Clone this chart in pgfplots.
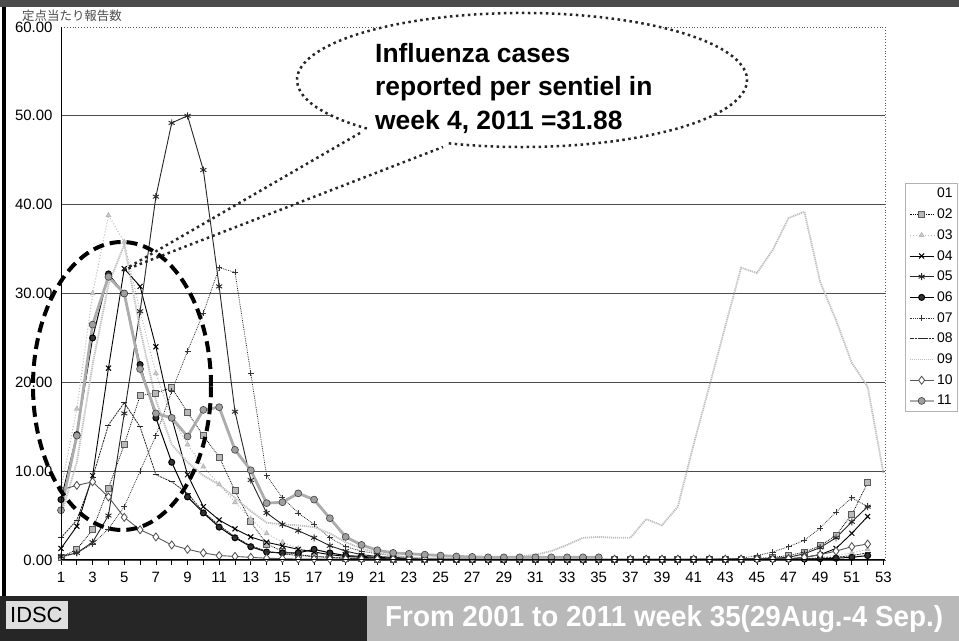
\documentclass[border=0pt]{standalone}
\usepackage{pgfplots}
\pgfplotsset{compat=1.18}
\usepackage{fontspec}
\setmainfont{Liberation Sans}
\newfontfamily\cjk{Noto Sans CJK JP}
\begin{document}
\begin{tikzpicture}[x=1bp,y=1bp]
\useasboundingbox (0,0) rectangle (959,641);
\clip (0,0) rectangle (959,641);
\fill[white] (0,0) rectangle (959,641);
\begin{axis}[
  at={(61bp,81bp)}, anchor=south west, scale only axis,
  width=824bp, height=533bp,
  xmin=1, xmax=53.1, ymin=0, ymax=60,
  xtick={1,3,...,53}, minor xtick={2,4,...,52},
  ytick={0,10,...,60},
  ymajorgrids, major grid style={gray!60!black, line width=0.8bp},
  axis line style={draw=none},
  tick align=outside, xtick pos=left, ytick pos=left,
  major tick length=5bp, minor tick length=5bp,
  tick style={black, line width=0.7bp},
  ytick style={draw=none},
  tick label style={font=\fontsize{15}{17}\selectfont},
  xticklabel style={yshift=-4bp},
  /pgf/number format/assume math mode=true,
  yticklabel style={/pgf/number format/fixed, /pgf/number format/fixed zerofill, /pgf/number format/precision=2},
  legend style={at={(1.0243,0.7073)}, anchor=north west, draw=gray!60, fill=white,
    font=\fontsize{14}{16}\selectfont, row sep=5.5bp, inner sep=3bp},
  legend cell align=left,
  legend image code/.code={\draw[mark repeat=2,mark phase=2,#1] plot coordinates {(0bp,0bp) (12bp,0bp) (24bp,0bp)};},
]
% 01
\addplot[draw=white, line width=1bp, mark=none] coordinates {
(1,1.5)(2,2.5)(3,3.5)(4,5)(5,7)(6,8.5)(7,9.5)(8,9.5)(9,8.5)(10,7)(11,5.5)(12,4)(13,2.8)(14,2)(15,1.4)(16,1)(17,0.7)(18,0.5)(19,0.3)(20,0.2)(21,0.1)(22,0.1)(23,0.1)(24,0.1)(25,0.1)(26,0.1)(27,0.1)(28,0.1)(29,0.1)(30,0.1)(31,0.1)(32,0.1)(33,0.1)(34,0.1)(35,0.1)(36,0.1)(37,0.1)(38,0.1)(39,0.1)(40,0.1)(41,0.1)(42,0.1)(43,0.1)(44,0.1)(45,0.1)(46,0.1)(47,0.1)(48,0.1)(49,0.2)(50,0.3)(51,0.4)(52,0.5)};
\addlegendentry{01}
% 02
\addplot[black, densely dotted, line width=0.8bp, mark=square*, mark size=3bp, mark options={solid, fill=gray!55, draw=gray!70!black}] coordinates {
(1,0.3)(2,1.2)(3,3.4)(4,8.1)(5,13.0)(6,18.5)(7,18.8)(8,19.4)(9,16.6)(10,14.0)(11,11.6)(12,7.8)(13,4.3)(14,1.8)(15,1.0)(16,0.6)(17,0.4)(18,0.3)(19,0.2)(20,0.15)(21,0.1)(22,0.08)(23,0.06)(24,0.05)(25,0.04)(26,0.03)(27,0.03)(28,0.02)(29,0.02)(30,0.02)(31,0.02)(32,0.02)(33,0.02)(34,0.02)(35,0.02)(36,0.03)(37,0.03)(38,0.04)(39,0.05)(40,0.05)(41,0.06)(42,0.08)(43,0.1)(44,0.12)(45,0.18)(46,0.3)(47,0.5)(48,0.9)(49,1.6)(50,2.8)(51,5.1)(52,8.7)};
\addlegendentry{02}
% 03
\addplot[gray!55, dotted, line width=1bp, mark=triangle*, mark size=2.5bp, mark options={solid, fill=gray!35, draw=gray!55}] coordinates {
(1,8.0)(2,17.0)(3,30.0)(4,38.8)(5,35.8)(6,28.0)(7,21.0)(8,16.0)(9,13.0)(10,10.5)(11,8.5)(12,6.5)(13,4.6)(14,3.0)(15,2.0)(16,1.3)(17,0.9)(18,0.6)(19,0.4)(20,0.3)(21,0.2)(22,0.15)(23,0.1)(24,0.08)(25,0.06)(26,0.05)(27,0.04)(28,0.03)(29,0.03)(30,0.03)(31,0.03)(32,0.03)(33,0.03)(34,0.03)(35,0.03)(36,0.03)(37,0.03)(38,0.03)(39,0.04)(40,0.04)(41,0.04)(42,0.05)(43,0.05)(44,0.05)(45,0.08)(46,0.1)(47,0.15)(48,0.2)(49,0.3)(50,0.5)(51,0.8)(52,1.2)};
\addlegendentry{03}
% 04
\addplot[black, line width=0.9bp, mark=x, mark size=3.5bp, mark options={line width=1bp}] coordinates {
(1,1.3)(2,3.8)(3,9.5)(4,21.6)(5,32.8)(6,30.8)(7,24.0)(8,16.0)(9,9.6)(10,6.0)(11,4.5)(12,3.5)(13,2.6)(14,2.0)(15,1.6)(16,1.2)(17,0.9)(18,0.6)(19,0.4)(20,0.3)(21,0.2)(22,0.1)(23,0.1)(24,0.08)(25,0.06)(26,0.05)(27,0.05)(28,0.04)(29,0.04)(30,0.04)(31,0.04)(32,0.04)(33,0.04)(34,0.04)(35,0.04)(36,0.04)(37,0.04)(38,0.05)(39,0.05)(40,0.05)(41,0.06)(42,0.07)(43,0.08)(44,0.1)(45,0.1)(46,0.1)(47,0.1)(48,0.3)(49,0.6)(50,1.3)(51,3.0)(52,4.9)};
\addlegendentry{04}
% 05
\addplot[black!85, line width=0.9bp, mark=asterisk, mark size=3.5bp] coordinates {
(1,0.4)(2,0.8)(3,2.0)(4,5.0)(5,16.5)(6,28.0)(7,40.9)(8,49.2)(9,50.0)(10,43.9)(11,30.8)(12,16.7)(13,9.0)(14,5.3)(15,4.0)(16,3.3)(17,2.5)(18,1.6)(19,1.0)(20,0.6)(21,0.4)(22,0.3)(23,0.2)(24,0.1)(25,0.08)(26,0.06)(27,0.05)(28,0.05)(29,0.05)(30,0.05)(31,0.05)(32,0.05)(33,0.05)(34,0.05)(35,0.05)(36,0.05)(37,0.05)(38,0.05)(39,0.05)(40,0.06)(41,0.06)(42,0.07)(43,0.08)(44,0.09)(45,0.1)(46,0.2)(47,0.3)(48,0.7)(49,1.4)(50,2.5)(51,4.3)(52,6.0)};
\addlegendentry{05}
% 06
\addplot[black, line width=1bp, mark=*, mark size=3bp, mark options={fill=gray!40!black}] coordinates {
(1,6.8)(2,14.1)(3,25.0)(4,32.2)(5,30.0)(6,22.0)(7,16.0)(8,11.0)(9,7.1)(10,5.3)(11,3.7)(12,2.5)(13,1.5)(14,0.9)(15,0.8)(16,0.8)(17,1.2)(18,0.8)(19,0.5)(20,0.4)(21,0.3)(22,0.2)(23,0.15)(24,0.1)(25,0.08)(26,0.06)(27,0.05)(28,0.05)(29,0.05)(30,0.05)(31,0.05)(32,0.05)(33,0.05)(34,0.05)(35,0.05)(36,0.05)(37,0.05)(38,0.05)(39,0.05)(40,0.05)(41,0.05)(42,0.05)(43,0.06)(44,0.07)(45,0.08)(46,0.09)(47,0.1)(48,0.1)(49,0.15)(50,0.2)(51,0.3)(52,0.5)};
\addlegendentry{06}
% 07
\addplot[black!80, densely dotted, line width=0.8bp, mark=+, mark size=3bp, mark options={solid}] coordinates {
(1,0.3)(2,0.8)(3,1.8)(4,3.5)(5,6.0)(6,10.0)(7,14.0)(8,19.0)(9,23.5)(10,27.8)(11,32.9)(12,32.4)(13,21.0)(14,9.5)(15,7.0)(16,5.3)(17,4.0)(18,2.5)(19,1.5)(20,1.0)(21,0.7)(22,0.5)(23,0.3)(24,0.2)(25,0.1)(26,0.08)(27,0.06)(28,0.05)(29,0.05)(30,0.05)(31,0.05)(32,0.05)(33,0.05)(34,0.05)(35,0.05)(36,0.05)(37,0.05)(38,0.06)(39,0.06)(40,0.07)(41,0.08)(42,0.09)(43,0.1)(44,0.2)(45,0.5)(46,0.9)(47,1.5)(48,2.2)(49,3.6)(50,5.4)(51,7.0)(52,6.0)};
\addlegendentry{07}
% 08
\addplot[black!85, dash pattern=on 2bp off 0.8bp, line width=0.8bp, mark=-, mark size=3bp, mark options={solid}] coordinates {
(1,2.5)(2,4.5)(3,9.3)(4,15.2)(5,17.7)(6,15.0)(7,9.6)(8,8.8)(9,7.5)(10,5.4)(11,3.9)(12,2.6)(13,1.6)(14,1.0)(15,0.7)(16,0.5)(17,0.4)(18,0.3)(19,0.2)(20,0.15)(21,0.1)(22,0.08)(23,0.06)(24,0.05)(25,0.05)(26,0.05)(27,0.05)(28,0.05)(29,0.05)(30,0.05)(31,0.05)(32,0.05)(33,0.05)(34,0.05)(35,0.05)(36,0.05)(37,0.05)(38,0.05)(39,0.05)(40,0.05)(41,0.05)(42,0.06)(43,0.06)(44,0.07)(45,0.08)(46,0.09)(47,0.1)(48,0.1)(49,0.2)(50,0.3)(51,0.5)(52,0.8)};
\addlegendentry{08}
% 09
\addplot[gray!50, line width=1.8bp, dash pattern=on 1.2bp off 0.8bp, mark=none] coordinates {
(1,5.0)(2,11.0)(3,22.0)(4,31.0)(5,35.5)(6,26.0)(7,18.0)(8,13.0)(9,11.0)(10,9.5)(11,8.5)(12,7.0)(13,5.5)(14,4.2)(15,4.0)(16,3.9)(17,3.7)(18,3.0)(19,2.0)(20,1.3)(21,0.8)(22,0.5)(23,0.3)(24,0.2)(25,0.2)(26,0.2)(27,0.2)(28,0.2)(29,0.3)(30,0.4)(31,0.6)(32,1.0)(33,1.7)(34,2.5)(35,2.6)(36,2.5)(37,2.5)(38,4.6)(39,3.9)(40,6.0)(41,13.0)(42,19.6)(43,26.3)(44,32.9)(45,32.3)(46,34.9)(47,38.5)(48,39.2)(49,31.3)(50,27.0)(51,22.2)(52,19.5)(53,9.8)};
\addlegendentry{09}
% 10
\addplot[gray!70!black, line width=0.9bp, mark=diamond*, mark size=4bp, mark options={fill=white, draw=gray!60!black, line width=0.8bp}] coordinates {
(1,7.9)(2,8.4)(3,8.8)(4,7.1)(5,4.8)(6,3.4)(7,2.6)(8,1.7)(9,1.2)(10,0.8)(11,0.5)(12,0.4)(13,0.3)(14,0.2)(15,0.15)(16,0.1)(17,0.1)(18,0.1)(19,0.1)(20,0.1)(21,0.1)(22,0.1)(23,0.1)(24,0.1)(25,0.1)(26,0.1)(27,0.1)(28,0.1)(29,0.1)(30,0.1)(31,0.1)(32,0.1)(33,0.1)(34,0.1)(35,0.1)(36,0.1)(37,0.1)(38,0.1)(39,0.1)(40,0.1)(41,0.1)(42,0.1)(43,0.1)(44,0.1)(45,0.1)(46,0.1)(47,0.15)(48,0.3)(49,0.6)(50,1.0)(51,1.5)(52,1.8)};
\addlegendentry{10}
% 11
\addplot[gray!65, line width=2.8bp, mark=*, mark size=3.5bp, mark options={fill=gray!75, draw=gray!50!black, line width=0.6bp}] coordinates {
(1,5.6)(2,14.0)(3,26.5)(4,31.88)(5,30.0)(6,21.5)(7,16.5)(8,16.0)(9,13.9)(10,16.9)(11,17.2)(12,12.4)(13,10.1)(14,6.4)(15,6.5)(16,7.5)(17,6.8)(18,4.7)(19,2.6)(20,1.7)(21,1.1)(22,0.8)(23,0.7)(24,0.6)(25,0.5)(26,0.4)(27,0.35)(28,0.3)(29,0.3)(30,0.3)(31,0.3)(32,0.3)(33,0.3)(34,0.3)(35,0.3)};
\addlegendentry{11}
\end{axis}
% axis frame
\draw[white, line width=1.5bp] (61,614) -- (885,614);
\draw[gray!70!black, dotted, line width=0.9bp] (61,614) -- (885,614) -- (885,81);
\draw[black, line width=1bp] (61,614) -- (61,81) -- (885,81);
% dashed ellipse
\draw[black, line width=4bp, dash pattern=on 11bp off 6bp] (122,255) ellipse [x radius=89, y radius=144];
% speech bubble
\fill[white] (522,561) ellipse [x radius=225, y radius=67];
\draw[black!85, line width=2.5bp, dash pattern=on 2.5bp off 3.5bp]
  (522,561) ++(251:225 and 67) arc[start angle=251, end angle=587, x radius=225, y radius=67];
\draw[black!85, line width=2.5bp, dash pattern=on 2.5bp off 3.5bp]
  (360,508) -- (122,370) -- (443,494);
\node[anchor=base west, inner sep=0, font=\fontsize{26.5}{30}\bfseries] at (375,578) {Influenza cases};
\node[anchor=base west, inner sep=0, font=\fontsize{26.5}{30}\bfseries] at (375,545) {reported per sentiel in};
\node[anchor=base west, inner sep=0, font=\fontsize{26.5}{30}\bfseries] at (375,511) {week 4, 2011 =31.88};
% japanese label
\node[anchor=west, inner sep=0, text=gray!60!black, font=\cjk\fontsize{12.5}{14}\selectfont] at (22,625) {定点当たり報告数};
% frame bands
\fill[black!70] (0,634) rectangle (959,641);
\fill[black] (2,44) rectangle (6,634);
% bottom bar
\fill[black!85] (0,0) rectangle (367,45);
\fill[gray!55] (367,0) rectangle (959,45);
\fill[gray!25] (6,12) rectangle (68,40);
\node[anchor=base west, inner sep=0, font=\fontsize{22}{24}\selectfont] at (10,18) {IDSC};
\node[anchor=base west, inner sep=0, text=white] at (385,14) {\resizebox{558bp}{21bp}{\bfseries From 2001 to 2011 week 35(29Aug.-4 Sep.)}};
\end{tikzpicture}
\end{document}
